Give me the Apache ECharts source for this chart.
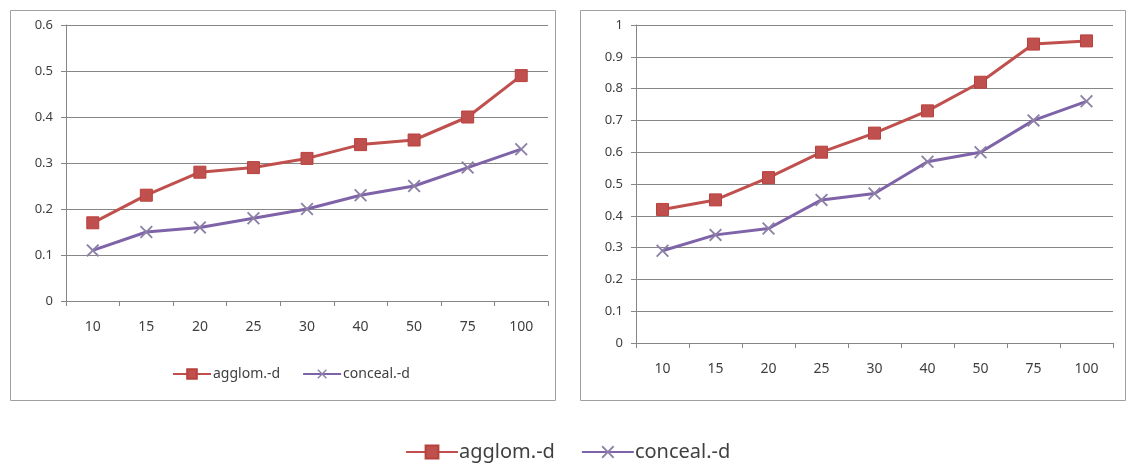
<!DOCTYPE html>
<html>
<head>
<meta charset="utf-8">
<script src="https://cdn.jsdelivr.net/npm/echarts@6/dist/echarts.min.js"></script>
<style>
  html, body { margin: 0; padding: 0; background: #ffffff; }
  #chart { width: 1131px; height: 465px; }
</style>
</head>
<body>
<div id="chart"></div>
<script>
// Sample sizes along the x axis
const categories = ['10', '15', '20', '25', '30', '40', '50', '75', '100'];

// Left panel
const leftAgglom  = [0.17, 0.23, 0.28, 0.29, 0.31, 0.34, 0.35, 0.40, 0.49];
const leftConceal = [0.11, 0.15, 0.16, 0.18, 0.20, 0.23, 0.25, 0.29, 0.33];

// Right panel
const rightAgglom  = [0.42, 0.45, 0.52, 0.60, 0.66, 0.73, 0.82, 0.94, 0.95];
const rightConceal = [0.29, 0.34, 0.36, 0.45, 0.47, 0.57, 0.60, 0.70, 0.76];

const seriesNames = ['agglom.-d', 'conceal.-d'];

const RED = '#C0504D';
const PURPLE = '#7F63A8';
const GRID_GRAY = '#868686';
const TEXT = '#3f3f3f';
const FONT = 'Noto Sans';
const CROSS = 'path://M1,0 L5,4 L9,0 L10,1 L6,5 L10,9 L9,10 L5,6 L1,10 L0,9 L4,5 L0,1 Z';

function xAxis(gridIndex) {
  return {
    type: 'category', gridIndex, data: categories, boundaryGap: true,
    axisLine: { lineStyle: { color: GRID_GRAY, width: 1 } },
    axisTick: { show: true, length: 5, lineStyle: { color: GRID_GRAY } },
    axisLabel: { color: TEXT, fontSize: 14, fontFamily: FONT, margin: 19 }
  };
}
function yAxis(gridIndex, max) {
  return {
    type: 'value', gridIndex, min: 0, max, interval: 0.1,
    axisLine: { show: true, lineStyle: { color: GRID_GRAY, width: 1 } },
    axisTick: { show: true, length: 5, lineStyle: { color: GRID_GRAY } },
    splitLine: { show: true, lineStyle: { color: GRID_GRAY, width: 1 } },
    axisLabel: { color: TEXT, fontSize: 13, fontFamily: FONT, margin: 13,
      formatter: v => (Math.round(v * 10) / 10).toString() }
  };
}
function agglom(idx, data) {
  return {
    name: seriesNames[0], type: 'line', xAxisIndex: idx, yAxisIndex: idx, data,
    symbol: 'rect', symbolSize: 12,
    lineStyle: { color: RED, width: 3 },
    itemStyle: { color: RED, borderColor: '#b8413e', borderWidth: 1 },
    animation: false
  };
}
function conceal(idx, data) {
  return {
    name: seriesNames[1], type: 'line', xAxisIndex: idx, yAxisIndex: idx, data,
    symbol: CROSS, symbolSize: 13,
    lineStyle: { color: PURPLE, width: 3 },
    itemStyle: { color: '#8c80a6' },
    animation: false
  };
}

const chart = echarts.init(document.getElementById('chart'), null, { renderer: 'canvas' });
chart.setOption({
  backgroundColor: '#ffffff',
  animation: false,
  graphic: [
    { type: 'rect', left: 8, top: 8, shape: { width: 545, height: 390 },
      style: { fill: 'none', stroke: '#a0a0a0', lineWidth: 1 }, silent: true },
    { type: 'rect', left: 578, top: 8, shape: { width: 545, height: 390 },
      style: { fill: 'none', stroke: '#a0a0a0', lineWidth: 1 }, silent: true }
  ],
  grid: [
    { left: 66, top: 25, right: 583, bottom: 164 },
    { left: 636, top: 25, right: 18, bottom: 122 }
  ],
  xAxis: [xAxis(0), xAxis(1)],
  yAxis: [yAxis(0, 0.6), yAxis(1, 1)],
  legend: [
    {
      data: seriesNames, left: 400, top: 437, itemWidth: 52, itemHeight: 16, itemGap: 26,
      textStyle: { color: TEXT, fontSize: 20, fontFamily: FONT, padding: [0, 0, 0, -4] }
    },
    {
      data: seriesNames, left: 167, top: 362, itemWidth: 38, itemHeight: 12, itemGap: 22,
      textStyle: { color: TEXT, fontSize: 14, fontFamily: FONT, padding: [0, 0, 0, -3] }
    }
  ],
  series: [
    agglom(0, leftAgglom), conceal(0, leftConceal),
    agglom(1, rightAgglom), conceal(1, rightConceal)
  ]
});
</script>
</body>
</html>
